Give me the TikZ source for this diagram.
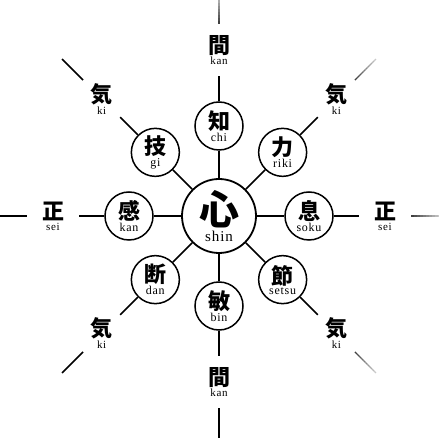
\documentclass[tikz,border=0pt]{standalone}
\usepackage{fontspec}
\setmainfont{Liberation Serif}
\newfontfamily\jp{Noto Sans CJK JP}
\newfontfamily\rom[LetterSpace=6]{Liberation Serif}
\usetikzlibrary{calc}
\newcommand\duo[5]{\vbox{\offinterlineskip\halign{\hfil##\hfil\cr
  \jp\bfseries\fontsize{#3}{#3}\selectfont #1\cr
  \noalign{\kern#5}
  \rom\fontsize{#4}{#4}\selectfont #2\cr}}}
\begin{document}
\begin{tikzpicture}[x=1pt,y=1pt,
  hub/.style={circle,draw,line width=1.8pt,minimum size=74pt,inner sep=0pt},
  petal/.style={circle,draw,line width=1.5pt,minimum size=48pt,inner sep=0pt},
  outer/.style={circle,minimum size=52pt,inner sep=0pt},
  spoke/.style={line width=1.5pt},
  ]
\useasboundingbox[fill=white] (0,0) rectangle (439,439);
\coordinate (c) at (219,223);
\node[hub] (h) at (c) {\duo{心}{shin}{40pt}{15pt}{3pt}};
\foreach \n/\a/\k/\r/\ko/\ro in {1/90/知/chi/間/kan, 2/45/力/riki/気/ki, 3/0/息/soku/正/sei, 4/315/節/setsu/気/ki, 5/270/敏/bin/間/kan, 6/225/断/dan/気/ki, 7/180/感/kan/正/sei, 8/135/技/gi/気/ki}{
  \node[petal] (p\n) at ($(c)+(\a:90)$) {\duo{\k}{\r}{22pt}{12pt}{1.5pt}};
  \draw[spoke] (h) -- (p\n);
  \node[outer] (o\n) at ($(c)+(\a:166)$) {\duo{\ko}{\ro}{22pt}{11pt}{2pt}};
  \draw[spoke] (p\n) -- (o\n);
  \coordinate (e\n) at ($(c)+(\a:222)$);
}
\foreach \n in {5,6,7,8}{
  \draw[line width=1.6pt] (o\n) -- (e\n);
}
\foreach \n/\a in {1/90,2/45,3/0,4/315}{
  \foreach \i in {0,...,9}{
    \pgfmathsetmacro\s{\i/10}
    \pgfmathsetmacro\t{(\i+1)/10}
    \pgfmathsetmacro\g{75-6*\i}
    \draw[line width=1.3pt, black!\g] ($(o\n.\a)!\s!(e\n)$) -- ($(o\n.\a)!\t!(e\n)$);
  }
}
\end{tikzpicture}
\end{document}
